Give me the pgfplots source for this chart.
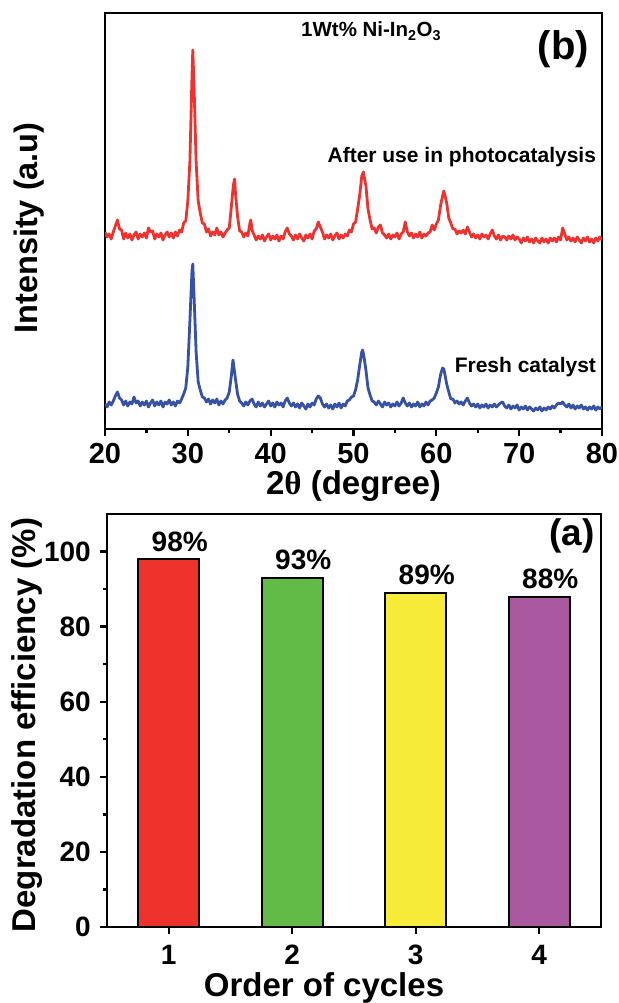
\documentclass[border=0pt]{standalone}
\usepackage{pgfplots}
\pgfplotsset{compat=1.18}
\usepackage{pgfplotstable}
\usepackage{fontspec}
\setmainfont{Liberation Sans}
\newfontfamily\serifth{Liberation Serif}
\newcommand{\fs}[1]{\fontsize{#1}{#1}\selectfont}
\definecolor{cred}{RGB}{237,50,47}
\definecolor{cblue}{RGB}{55,82,164}
\definecolor{bred}{RGB}{238,51,45}
\definecolor{bgreen}{RGB}{98,187,70}
\definecolor{byellow}{RGB}{245,235,56}
\definecolor{bpurple}{RGB}{170,88,160}

\pgfplotstableread{
x y
20.00 197
20.25 192
20.50 195
20.75 190
21.00 197
21.25 203
21.50 209
21.75 200
22.00 199
22.25 190
22.50 196
22.75 191
23.00 195
23.25 189
23.50 194
23.75 197
24.00 190
24.25 195
24.50 192
24.75 196
25.00 191
25.25 201
25.50 197
25.75 198
26.00 190
26.25 195
26.50 192
26.75 196
27.00 189
27.25 194
27.50 197
27.75 192
28.00 196
28.25 191
28.50 197
28.75 193
29.00 199
29.25 197
29.50 206
29.75 208
30.00 228
30.25 268
30.50 352
30.60 379
30.75 343
31.00 267
31.25 228
31.50 216
31.75 206
32.00 205
32.25 197
32.50 200
32.75 193
33.00 197
33.25 194
33.50 201
33.75 194
34.00 197
34.25 192
34.50 196
34.75 199
35.00 201
35.25 222
35.50 244
35.65 250
35.75 236
36.00 213
36.25 198
36.50 197
36.75 192
37.00 196
37.25 193
37.50 206
37.60 209
37.75 199
38.00 194
38.25 189
38.50 193
38.75 190
39.00 194
39.25 188
39.50 192
39.75 195
40.00 189
40.25 193
40.50 190
40.75 194
41.00 188
41.25 193
41.50 190
41.75 197
42.00 201
42.25 195
42.50 193
42.75 189
43.00 194
43.25 190
43.50 195
43.75 191
44.00 188
44.25 194
44.50 191
44.75 195
45.00 190
45.25 198
45.50 200
45.75 207
46.00 202
46.25 197
46.50 190
46.75 194
47.00 191
47.25 195
47.50 189
47.75 193
48.00 196
48.25 190
48.50 194
48.75 191
49.00 195
49.25 193
49.50 199
49.75 197
50.00 205
50.25 207
50.50 220
50.75 234
51.00 253
51.20 257
51.25 254
51.50 243
51.75 220
52.00 209
52.25 200
52.50 201
52.75 196
53.00 202
53.25 204
53.50 196
53.75 194
54.00 191
54.25 195
54.50 190
54.75 194
55.00 192
55.25 196
55.50 190
55.75 195
56.00 197
56.25 207
56.50 197
56.75 193
57.00 196
57.25 191
57.50 195
57.75 192
58.00 197
58.25 191
58.50 195
58.75 193
59.00 196
59.25 197
59.50 204
59.75 199
60.00 205
60.25 209
60.50 223
60.75 233
60.90 238
61.00 235
61.25 226
61.50 211
61.75 206
62.00 200
62.25 200
62.50 195
62.75 198
63.00 196
63.25 199
63.50 195
63.75 202
64.00 197
64.25 192
64.50 195
64.75 191
65.00 194
65.25 190
65.50 195
65.75 192
66.00 194
66.25 190
66.50 195
66.75 199
67.00 193
67.25 190
67.50 194
67.75 189
68.00 193
68.25 192
68.50 189
68.75 193
69.00 190
69.25 194
69.50 189
69.75 192
70.00 190
70.25 186
70.50 191
70.75 188
71.00 192
71.25 187
71.50 190
71.75 186
72.00 191
72.25 188
72.50 186
72.75 191
73.00 187
73.25 190
73.50 186
73.75 191
74.00 188
74.25 191
74.50 187
74.75 192
75.00 189
75.25 201
75.50 195
75.75 189
76.00 192
76.25 188
76.50 191
76.75 187
77.00 192
77.25 189
77.50 186
77.75 191
78.00 188
78.25 192
78.50 187
78.75 190
79.00 186
79.25 191
79.50 188
79.75 192
80.00 189
}\redxrd

\pgfplotstableread{
x y
20.00 25
20.25 22
20.50 27
20.75 24
21.00 28
21.25 33
21.50 37
21.75 31
22.00 29
22.25 24
22.50 28
22.75 23
23.00 27
23.25 25
23.50 32
23.75 26
24.00 28
24.25 23
24.50 27
24.75 24
25.00 28
25.25 22
25.50 26
25.75 29
26.00 23
26.25 27
26.50 24
26.75 28
27.00 22
27.25 27
27.50 25
27.75 29
28.00 24
28.25 27
28.50 23
28.75 28
29.00 26
29.25 30
29.50 35
29.75 41
30.00 62
30.25 108
30.50 158
30.60 165
30.75 133
31.00 77
31.25 47
31.50 39
31.75 32
32.00 31
32.25 27
32.50 30
32.75 25
33.00 29
33.25 26
33.50 30
33.75 24
34.00 28
34.25 25
34.50 29
34.75 31
35.00 37
35.25 53
35.45 69
35.50 66
35.75 50
36.00 35
36.25 28
36.50 26
36.75 23
37.00 27
37.25 24
37.50 28
37.75 30
38.00 25
38.25 22
38.50 27
38.75 23
39.00 26
39.25 22
39.50 25
39.75 28
40.00 23
40.25 26
40.50 22
40.75 27
41.00 24
41.25 26
41.50 22
41.75 28
42.00 31
42.25 26
42.50 23
42.75 26
43.00 22
43.25 25
43.50 21
43.75 26
44.00 23
44.25 20
44.50 25
44.75 22
45.00 26
45.25 24
45.50 30
45.75 33
46.00 31
46.25 25
46.50 22
46.75 25
47.00 21
47.25 24
47.50 20
47.75 25
48.00 22
48.25 26
48.50 21
48.75 25
49.00 23
49.25 28
49.50 29
49.75 32
50.00 33
50.25 39
50.50 49
50.75 64
51.00 77
51.10 79
51.25 73
51.50 59
51.75 41
52.00 34
52.25 28
52.50 27
52.75 24
53.00 28
53.25 25
53.50 22
53.75 27
54.00 24
54.25 26
54.50 22
54.75 25
55.00 23
55.25 27
55.50 23
55.75 26
56.00 31
56.25 26
56.50 23
56.75 26
57.00 22
57.25 25
57.50 23
57.75 27
58.00 22
58.25 25
58.50 23
58.75 27
59.00 24
59.25 28
59.50 29
59.75 31
60.00 36
60.25 42
60.50 54
60.75 61
60.90 60
61.00 56
61.25 45
61.50 37
61.75 30
62.00 30
62.25 26
62.50 28
62.75 25
63.00 27
63.25 24
63.50 28
63.75 31
64.00 26
64.25 23
64.50 25
64.75 22
65.00 25
65.25 21
65.50 24
65.75 22
66.00 25
66.25 21
66.50 24
66.75 22
67.00 25
67.25 22
67.50 24
67.75 26
68.00 27
68.25 23
68.50 21
68.75 24
69.00 20
69.25 23
69.50 21
69.75 24
70.00 19
70.25 22
70.50 20
70.75 23
71.00 19
71.25 22
71.50 20
71.75 18
72.00 21
72.25 19
72.50 22
72.75 18
73.00 21
73.25 19
73.50 22
73.75 20
74.00 23
74.25 21
74.50 24
74.75 26
75.00 25
75.25 27
75.50 24
75.75 22
76.00 25
76.25 21
76.50 24
76.75 20
77.00 23
77.25 21
77.50 24
77.75 20
78.00 22
78.25 19
78.50 22
78.75 20
79.00 23
79.25 19
79.50 22
79.75 20
80.00 22
}\bluexrd

\begin{document}
\begin{tikzpicture}[x=1pt,y=1pt]
\path[use as bounding box] (0,0) rectangle (618,1003);

% ---------- (b) XRD ----------
\begin{axis}[
  at={(105pt,574pt)}, anchor=south west,
  scale only axis, width=497pt, height=416pt,
  xmin=20, xmax=80, ymin=0, ymax=416,
  axis line style={line width=2.5pt},
  xtick={20,30,...,80}, minor xtick={25,35,...,75},
  ytick=\empty,
  xtick pos=bottom, tick align=outside,
  major tick length=7pt, minor tick length=4pt,
  every tick/.style={line width=2.3pt, black},
  /pgf/number format/assume math mode=true,
  xticklabel style={font=\bfseries\fs{29}, inner sep=0pt, anchor=base, yshift=-28pt},
  xlabel={2{\serifth θ} (degree)},
  xlabel style={font=\bfseries\fs{33}, inner sep=0pt, at={(axis description cs:0.5,0)}, anchor=base, yshift=-66pt},
  ylabel={Intensity (a.u)},
  ylabel style={font=\bfseries\fs{32.5}, inner sep=0pt, at={([xshift=-67.5pt,yshift=-7pt]axis description cs:0,0.5)}, anchor=base},
  clip=true,
]
\addplot[cred, line width=2.8pt, line join=round] table[x=x,y=y] {\redxrd};
\addplot[cblue, line width=2.8pt, line join=round] table[x=x,y=y] {\bluexrd};
\node[font=\bfseries\fs{20.5}, anchor=base west, inner sep=0pt] at (axis cs:43.66,392) {1Wt\% Ni-In\textsubscript{2}O\textsubscript{3}};
\node[font=\bfseries\fs{40}, anchor=base east, inner sep=0pt] at (axis cs:78.43,369) {(b)};
\node[font=\bfseries\fs{21}, anchor=base east, inner sep=0pt] at (axis cs:79.3,266) {After use in photocatalysis};
\node[font=\bfseries\fs{21}, anchor=base east, inner sep=0pt] at (axis cs:79.3,56.5) {Fresh catalyst};
\end{axis}

% ---------- (a) bars ----------
\begin{axis}[
  at={(107pt,76pt)}, anchor=south west,
  scale only axis, width=494pt, height=413pt,
  xmin=0.5, xmax=4.5, ymin=0, ymax=110,
  axis line style={line width=2.5pt},
  xtick={1,2,3,4},
  ytick={0,20,...,100}, minor ytick={10,30,...,90},
  xtick pos=bottom, ytick pos=left, tick align=outside,
  major tick length=7pt, minor tick length=4pt,
  every tick/.style={line width=2.3pt, black},
  /pgf/number format/assume math mode=true,
  xticklabel style={font=\bfseries\fs{28}, inner sep=0pt, anchor=base, yshift=-30pt},
  yticklabel style={font=\bfseries\fs{28}, inner sep=0pt, anchor=east, xshift=-9pt},
  xlabel={Order of cycles},
  xlabel style={font=\bfseries\fs{33}, inner sep=0pt, at={([xshift=-30pt]axis description cs:0.5,0)}, anchor=base, yshift=-69pt},
  ylabel={Degradation efficiency (\%)},
  ylabel style={font=\bfseries\fs{33}, inner sep=0pt, at={([xshift=-71pt,yshift=-4.5pt]axis description cs:0,0.5)}, anchor=base},
  every node near coord/.append style={font=\bfseries\fs{28}, inner sep=0pt, anchor=base, yshift=8pt, xshift=11pt, black},
  nodes near coords={\pgfmathprintnumber{\pgfplotspointmeta}\%},
]
\addplot[ybar, bar width=0.49, fill=bred, draw=black, line width=2pt] coordinates {(1,98)};
\addplot[ybar, bar width=0.49, fill=bgreen, draw=black, line width=2pt] coordinates {(2,93)};
\addplot[ybar, bar width=0.49, fill=byellow, draw=black, line width=2pt] coordinates {(3,89)};
\addplot[ybar, bar width=0.49, fill=bpurple, draw=black, line width=2pt] coordinates {(4,88)};
\node[font=\bfseries\fs{37}, anchor=base east, inner sep=0pt] at (axis cs:4.45,101.5) {(a)};
\end{axis}
\end{tikzpicture}
\end{document}
